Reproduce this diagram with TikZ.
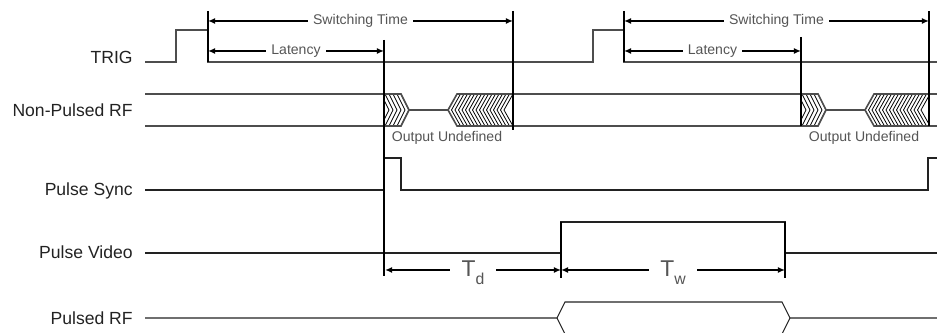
\documentclass[tikz,border=0pt]{standalone}
\usepackage{fontspec}
\setmainfont{Liberation Sans}
\usetikzlibrary{arrows.meta}
\definecolor{lineG}{HTML}{4D4D4D}
\definecolor{noteG}{HTML}{555555}
\definecolor{labelK}{HTML}{222222}

\begin{document}
\begin{tikzpicture}[
    x=0.02cm, y=-0.02cm,
    >={Latex[length=4pt,width=3.4pt]},
    sig/.style={draw=labelK,line width=0.6pt},
    rf/.style={draw=lineG,line width=0.9pt},
    vline/.style={draw=black,line width=1.1pt},
    dim/.style={<->,line width=0.9pt},
    hatch/.style={draw=black,line width=0.45pt},
    lbl/.style={font=\fontsize{10}{12}\selectfont,text=labelK,
                anchor=base east,inner sep=0pt},
    note/.style={font=\fontsize{8}{10}\selectfont,text=noteG,inner sep=0pt},
    dimtxt/.style={note,fill=white,inner xsep=3pt,inner ysep=0.8pt,anchor=base},
    tlbl/.style={font=\fontsize{13}{15}\selectfont,text=noteG,fill=white,
                 inner xsep=6.5pt,inner ysep=1pt,anchor=base},
]
\useasboundingbox (0,0) rectangle (937,333);
\clip (0,0) rectangle (937,333);

% =====================================================================
%  signal names
% =====================================================================
\node[lbl] (ntrig)  at (133,64)  {TRIG};
\node[lbl] (nnprf)  at (133,117) {Non-Pulsed RF};
\node[lbl] (nsync)  at (133,196) {Pulse Sync};
\node[lbl] (nvideo) at (133,259) {Pulse Video};
\node[lbl] (nprf)   at (133,325) {Pulsed RF};

% =====================================================================
%  TRIG (two trigger pulses)
% =====================================================================
\draw[rf,line width=0.7pt] (145,62) -- (176,62) -- (176,30) -- (208,30) -- (208,62)
     -- (593,62) -- (593,30) -- (624,30) -- (624,62) -- (937,62);

% =====================================================================
%  Non-Pulsed RF: steady output, undefined while switching
% =====================================================================
\foreach \y in {94,126}
   \draw[rf] (145,\y) -- (384,\y) (513,\y) -- (801,\y) (929,\y) -- (937,\y);

\foreach \s/\e/\n in {384/513/1, 801/929/2}{
   % leading edge (pointing right)
   \begin{scope}
      \clip (\s,94) -- ({\s+17},94) -- ({\s+25},110) -- ({\s+17},126)
            -- (\s,126) -- cycle;
      \foreach \k in {0,...,5}
         \draw[hatch] ({\s+17-4*\k},94) -- ({\s+25-4*\k},110) -- ({\s+17-4*\k},126);
   \end{scope}
   \draw[rf] (\s,94) -- ({\s+17},94) -- ({\s+25},110) -- ({\s+17},126) -- (\s,126);
   % settling (pointing left)
   \begin{scope}
      \clip ({\s+64},110) -- ({\s+73},94) -- (\e,94) -- (\e,126)
            -- ({\s+73},126) -- cycle;
      \foreach \k in {0,...,16}
         \draw[hatch] ({\s+73+3.5*\k},94) -- ({\s+64+3.5*\k},110) -- ({\s+73+3.5*\k},126);
   \end{scope}
   \draw[rf] (\e,94) -- ({\s+73},94) -- ({\s+64},110) -- ({\s+73},126) -- (\e,126);
   \draw[rf] ({\s+25},110) -- ({\s+64},110);
   \node[note,anchor=base] (undef\n) at ({\s+63},142) {Output Undefined};
}

% =====================================================================
%  Pulse Sync / Pulse Video / Pulsed RF
% =====================================================================
\draw[sig] (145,190) -- (384,190) -- (384,158) -- (401,158) -- (401,190)
     -- (928,190) -- (928,158) -- (937,158);
\draw[sig] (145,253) -- (561,253) -- (561,222) -- (785,222) -- (785,253) -- (937,253);
\draw[sig] (145,318) -- (557,318) -- (565,302) -- (782,302) -- (790,318) -- (937,318);
\draw[sig] (557,318) -- (566,336) -- (781,336) -- (790,318);

% =====================================================================
%  timing markers
% =====================================================================
\foreach \x/\a/\b in {208/11/62, 513/11/130, 384/40/276, 624/11/62,
                      801/37/126, 929/11/126, 561/222/278, 785/222/278}
   \draw[vline] (\x,\a) -- (\x,\b);

% switching time and latency, once per trigger
\foreach \a/\b/\c/\n in {208/384/513/1, 624/801/929/2}{
   \coordinate (swA\n) at (\a,21);
   \coordinate (swB\n) at (\c,21);
   \coordinate (ltA\n) at (\a,51);
   \coordinate (ltB\n) at (\b,51);
   \draw[dim] (swA\n) -- (swB\n);
   \draw[dim] (ltA\n) -- (ltB\n);
   \node[dimtxt] (sw\n) at ({(\a+\c)/2},25) {Switching Time};
   \node[dimtxt] (lt\n) at ({(\a+\b)/2},55) {Latency};
}

% pulse delay and pulse width
\coordinate (tdA) at (385,270);
\coordinate (tdB) at (561,270);
\coordinate (twB) at (785,270);
\draw[dim] (tdA) -- (tdB);
\draw[dim] (tdB) -- (twB);
\node[tlbl] (td) at (473,277) {T\raisebox{-4pt}{\fontsize{9}{10}\selectfont d}};
\node[tlbl] (tw) at (673,277) {T\raisebox{-4pt}{\fontsize{9}{10}\selectfont w}};

\end{tikzpicture}
\end{document}
